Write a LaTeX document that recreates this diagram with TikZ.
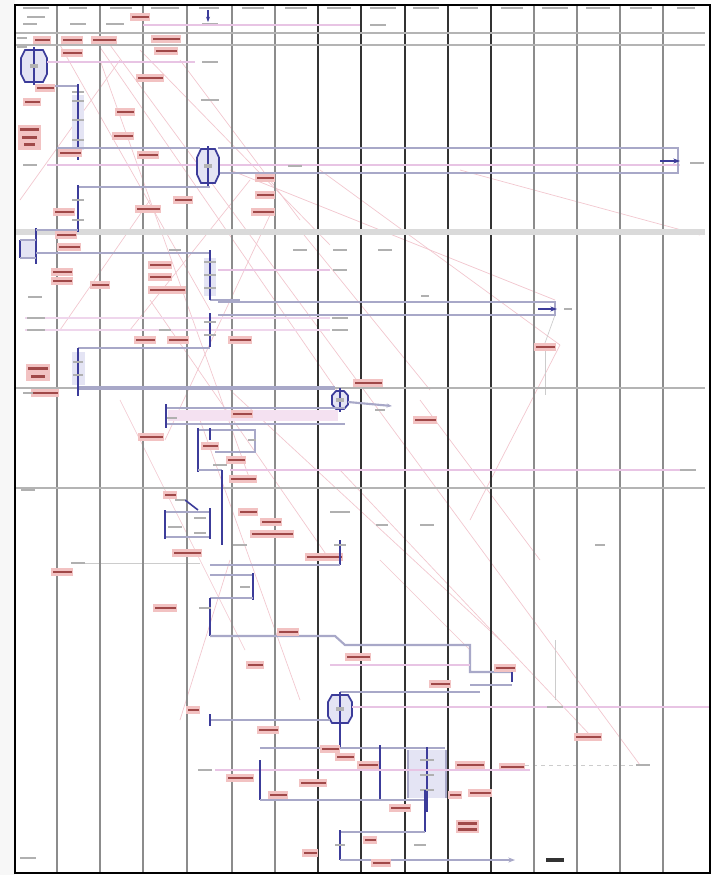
\documentclass[tikz,border=0pt]{standalone}
\usetikzlibrary{arrows.meta}
\definecolor{lanegray}{HTML}{8C8C8C}
\definecolor{lanedark}{HTML}{333333}
\definecolor{bandgray}{HTML}{B4B4B4}
\definecolor{bandlight}{HTML}{DADADA}
\definecolor{bluestem}{HTML}{3C3C9A}
\definecolor{blueline}{HTML}{A8A8C8}
\definecolor{bluefill}{HTML}{E4E4F4}
\definecolor{pinkbar}{HTML}{E8C4E4}
\definecolor{redfill}{HTML}{F2C2C2}
\definecolor{redtext}{HTML}{A04848}
\definecolor{diag}{HTML}{F2C6CE}
\definecolor{txtgray}{HTML}{B0B0B0}
\tikzset{
  lanel/.style={draw=lanegray,line width=1.5pt},
  laned/.style={draw=lanedark,line width=1.5pt},
  band/.style={draw=bandgray,line width=2.2pt},
  bstem/.style={draw=bluestem,line width=1.2pt},
  bline/.style={draw=blueline,line width=1.6pt},
  pbar/.style={draw=pinkbar,line width=2.2pt},
  thinline/.style={draw=diag,line width=0.5pt},
  thingray/.style={draw=gray!40,line width=0.5pt},
  hexa/.style={draw=bluestem,line width=1.3pt,fill=bluefill},
}
\newcommand{\redlab}[3]{\fill[redfill] ({#1-#3/2},{#2-4}) rectangle ({#1+#3/2},{#2+4});
  \fill[redtext] ({#1-#3/2+1.5},{#2-1.4}) rectangle ({#1+#3/2-1.5},{#2+1.4});}
\newcommand{\graylab}[3]{\fill[txtgray] ({#1-#3/2},{#2-1.3}) rectangle ({#1+#3/2},{#2+1.3});}
\newcommand{\hexag}[4]{\draw[hexa] ({#1-#3/2+4},{#2-#4/2}) -- ({#1+#3/2-4},{#2-#4/2}) -- ({#1+#3/2},{#2-#4/4}) -- ({#1+#3/2},{#2+#4/4}) -- ({#1+#3/2-4},{#2+#4/2}) -- ({#1-#3/2+4},{#2+#4/2}) -- ({#1-#3/2},{#2+#4/4}) -- ({#1-#3/2},{#2-#4/4}) -- cycle;
  \draw[bstem] (#1,{#2-#4/2-3}) -- (#1,{#2+#4/2+3});
  \fill[gray!60] ({#1-4},{#2-2}) rectangle ({#1+4},{#2+2});}
\begin{document}
\begin{tikzpicture}[x=0.75pt,y=-0.75pt]
\useasboundingbox (0,0) rectangle (718,875);
\fill[white] (0,0) rectangle (718,875);
\fill[gray!6] (0,0) rectangle (15,875);
% ---------- faint diagonal connectors ----------
\foreach \a/\b/\c/\d in {95/40/340/395, 110/45/640/765, 320/170/560/345, 230/170/555/300,
  140/50/330/245, 60/45/210/310, 250/180/130/330, 270/215/165/440, 460/170/700/235,
  230/390/500/640, 340/470/590/735, 100/60/250/480, 180/60/300/220, 300/230/430/390,
  150/300/330/560, 420/400/540/560, 20/200/120/60, 150/200/60/330, 200/420/300/700,
  380/560/470/650, 230/560/180/720, 560/345/470/520, 120/400/245/650}
  {\draw[thinline] (\a,\b) -- (\c,\d);}
\draw[thingray] (555,315) -- (545,343);
\draw[thingray] (545,351) -- (545,395);
\draw[thingray] (555,700) -- (555,640);
\draw[thingray,dashed] (525,765) -- (635,765);
\draw[thingray] (75,563) -- (200,563);
% ---------- lanes ----------
\foreach \x in {57,100,143,187,232,275,534,577,620,663} {\draw[lanel] (\x,5) -- (\x,873);}
\foreach \x in {318,361,405,448,491} {\draw[laned] (\x,5) -- (\x,873);}
% header labels
\foreach \x/\w in {36/26,78/18,121/22,165/28,209/20,253/22,296/22,339/24,383/26,426/26,469/18,512/22,555/26,598/24,641/22,686/18}
  {\graylab{\x}{8}{\w}}
% ---------- bands ----------
\draw[band] (15,33) -- (705,33);
\draw[band] (15,45) -- (705,45);
\draw[draw=bandlight,line width=4pt] (15,232) -- (705,232);
\draw[band] (15,388) -- (705,388);
\draw[band] (15,488) -- (705,488);
\draw[draw=blueline,line width=3pt] (78,388) -- (335,388);
% ---------- top region ----------
\graylab{36}{17}{18}\graylab{30}{24}{14}\graylab{78}{24}{16}\graylab{115}{24}{18}\graylab{210}{24}{16}
\draw[bstem,-{Stealth[length=4pt]}] (208,10) -- (208,22);
\redlab{140}{17}{20}
\draw[pbar] (143,25) -- (360,25);
\graylab{378}{25}{16}
\graylab{22}{38}{10}\graylab{22}{47}{10}
\redlab{42}{40}{18}\redlab{72}{40}{22}\redlab{104}{40}{26}\redlab{166}{39}{30}
\redlab{166}{51}{24}\redlab{72}{53}{22}
% hexagon 1 and stem
\hexag{34}{66}{26}{32}
\draw[pbar] (47,62) -- (195,62);
\graylab{210}{62}{16}
\redlab{150}{78}{28}
\draw[bline] (47,86) -- (78,86);
\redlab{45}{88}{20}
\draw[bstem] (78,84) -- (78,160);
\foreach \y in {92,101,110,120,130,140} {\graylab{78}{\y}{12}}
\fill[bluefill] (72,95) rectangle (84,150);
\draw[bstem] (78,84) -- (78,160);
\foreach \y in {101,120,140} {\graylab{78}{\y}{12}}
\redlab{32}{102}{18}\redlab{125}{112}{20}\redlab{123}{136}{22}
\fill[redfill] (18,125) rectangle (41,150);
\fill[redtext] (20,128) rectangle (39,130.5);\fill[redtext] (22,136) rectangle (37,138.5);\fill[redtext] (24,143) rectangle (35,145.5);
\redlab{70}{153}{24}
\graylab{210}{100}{18}
% long box with hexagon 2
\draw[bline] (57,148) -- (200,148);
\graylab{30}{165}{14}\graylab{165}{165}{10}
\draw[pbar] (47,165) -- (680,165);
\draw[bline] (218,148) -- (678,148) -- (678,173) -- (218,173);
\draw[bstem,-{Stealth[length=5pt]}] (660,161) -- (680,161);
\graylab{697}{163}{14}
\graylab{295}{166}{14}
\hexag{208}{166}{22}{34}
\redlab{148}{155}{22}\redlab{265}{178}{20}\redlab{265}{195}{20}\redlab{263}{212}{24}
\redlab{183}{200}{20}\redlab{148}{209}{26}\redlab{64}{212}{22}\redlab{66}{235}{22}\redlab{69}{247}{24}
\draw[bline] (78,187) -- (210,187);
\draw[bstem] (78,185) -- (78,232);
\graylab{78}{200}{12}\graylab{78}{220}{12}
% bracket 3
\fill[bluefill] (20,240) rectangle (35,258);
\draw[bstem] (20,240) -- (20,258);
\draw[bstem] (36,228) -- (36,264);
\draw[bline] (36,230) -- (78,230);
\draw[bline] (36,253) -- (210,253);
\draw[bline] (20,240) -- (36,240);\draw[bline] (20,258) -- (36,258);
\draw[bstem] (210,250) -- (210,300);
\draw[bline] (210,300) -- (240,300);
\fill[bluefill] (204,258) rectangle (216,296);
\draw[bstem] (210,250) -- (210,300);
\foreach \y in {262,275,288} {\graylab{210}{\y}{12}}
\redlab{62}{272}{22}\redlab{62}{281}{22}\redlab{100}{285}{20}
\redlab{160}{265}{24}\redlab{160}{277}{24}\redlab{167}{290}{38}
\graylab{35}{297}{14}\graylab{175}{250}{12}\graylab{300}{250}{14}\graylab{340}{250}{14}\graylab{385}{250}{14}
\draw[pbar] (218,270) -- (330,270);
\graylab{340}{270}{14}
% long box to 555
\draw[bline] (218,302) -- (555,302) -- (555,315) -- (218,315);
\draw[bstem,-{Stealth[length=5pt]}] (538,309) -- (557,309);
\graylab{425}{296}{8}\graylab{568}{309}{8}
\draw[pbar,draw=pinkbar!70] (25,318) -- (330,318);
\draw[pbar,draw=pinkbar!70] (25,330) -- (330,330);
\graylab{36}{318}{18}\graylab{36}{330}{18}\graylab{340}{318}{16}\graylab{340}{330}{16}\graylab{165}{330}{12}
\draw[bstem] (210,313) -- (210,347);
\graylab{210}{322}{12}\graylab{210}{335}{12}
\draw[bline] (78,348) -- (210,348);
\redlab{145}{340}{22}\redlab{178}{340}{22}\redlab{240}{340}{24}
\redlab{545}{347}{22}
\fill[bluefill] (72,352) rectangle (85,385);
\draw[bstem] (78,348) -- (78,396);
\graylab{78}{362}{10}\graylab{78}{375}{10}
\fill[redfill] (26,364) rectangle (50,381);
\fill[redtext] (28,367) rectangle (48,369.5);\fill[redtext] (31,375) rectangle (45,377.5);
\redlab{45}{393}{28}
\graylab{28}{393}{10}
% ---------- middle region ----------
\redlab{368}{383}{30}
\hexag{340}{400}{16}{18}
\draw[bline,-{Stealth[length=4pt]}] (348,402) -- (392,406);
\graylab{380}{410}{10}
\fill[pinkbar!50] (168,410) rectangle (338,421);
\draw[bline] (165,408) -- (345,408);\draw[bline] (165,424) -- (345,424);
\draw[bstem] (166,404) -- (166,428);
\graylab{172}{418}{10}
\redlab{242}{414}{22}
\redlab{151}{437}{26}\redlab{425}{420}{24}
\draw[bline] (198,430) -- (255,430) -- (255,452) -- (215,452);
\draw[bstem] (198,428) -- (198,472);
\draw[bstem] (210,428) -- (210,440);
\graylab{252}{440}{8}\graylab{220}{465}{14}
\redlab{210}{446}{18}\redlab{236}{460}{20}\redlab{243}{479}{28}
\draw[bline] (198,470) -- (222,470);
\draw[pbar] (230,470) -- (680,470);
\graylab{688}{470}{16}
\graylab{28}{490}{14}
\draw[bstem] (222,470) -- (222,545);
\redlab{170}{495}{14}
\draw[bline] (165,512) -- (210,512);\draw[bline] (165,537) -- (210,537);
\draw[bstem] (165,510) -- (165,539);\draw[bstem] (210,508) -- (210,539);
\draw[bstem] (185,500) -- (198,510);
\graylab{180}{500}{10}\graylab{200}{518}{12}\graylab{200}{533}{12}\graylab{175}{527}{14}\graylab{240}{545}{14}
\redlab{248}{512}{20}\redlab{271}{522}{22}\redlab{272}{534}{44}
\redlab{187}{553}{30}\redlab{324}{557}{38}
\graylab{340}{512}{20}\graylab{382}{525}{12}\graylab{427}{525}{14}\graylab{600}{545}{10}
\draw[bstem] (340,540) -- (340,565);
\graylab{340}{545}{12}
\draw[bline] (210,565) -- (340,565);
\draw[bline] (210,575) -- (253,575);
\draw[bstem] (253,573) -- (253,600);
\graylab{245}{587}{10}
\draw[bline] (210,598) -- (253,598);
\draw[bstem] (210,598) -- (210,636);
\graylab{78}{563}{14}
\redlab{62}{572}{22}
\redlab{165}{608}{24}\graylab{205}{608}{12}
% ---------- lower region ----------
\draw[bline] (210,636) -- (335,636) -- (345,645) -- (470,645) -- (470,672) -- (512,672);
\draw[bstem] (512,664) -- (512,682);
\draw[bline] (470,685) -- (512,685);
\draw[bline] (340,692) -- (480,692);
\redlab{288}{632}{22}
\draw[pbar] (330,665) -- (470,665);
\redlab{255}{665}{18}\redlab{358}{657}{26}\redlab{505}{668}{22}\redlab{440}{684}{22}
\hexag{340}{709}{24}{28}
\draw[pbar] (352,707) -- (710,707);
\graylab{555}{707}{16}
\redlab{193}{710}{14}
\draw[bline] (210,720) -- (330,720);
\draw[bstem] (210,714) -- (210,726);
\draw[bstem] (340,725) -- (340,748);
\draw[bline] (260,748) -- (445,748);
\redlab{268}{730}{22}\redlab{588}{737}{28}
\fill[bluefill] (408,750) rectangle (446,798);
\draw[bstem] (380,745) -- (380,800);\draw[bstem] (427,747) -- (427,812);
\draw[bline] (408,750) -- (408,798);\draw[bline] (446,750) -- (446,798);
\graylab{427}{760}{14}\graylab{427}{775}{14}\graylab{427}{790}{14}
\redlab{330}{749}{20}\redlab{345}{757}{20}\redlab{368}{765}{22}\redlab{470}{765}{30}\redlab{512}{767}{26}
\graylab{643}{765}{14}
\draw[pbar] (215,770) -- (530,770);
\graylab{205}{770}{14}
\redlab{240}{778}{28}\redlab{313}{783}{28}
\draw[bstem] (260,760) -- (260,800);
\draw[bline] (260,800) -- (425,800);
\draw[bstem] (425,790) -- (425,832);
\draw[bline] (340,832) -- (425,832);
\draw[bstem] (340,830) -- (340,860);
\draw[bline,-{Stealth[length=5pt]}] (340,860) -- (515,860);
\redlab{278}{795}{20}\redlab{400}{808}{22}\redlab{455}{795}{14}\redlab{480}{793}{24}
\fill[redfill] (456,820) rectangle (479,833);
\fill[redtext] (458,822) rectangle (477,824.5);\fill[redtext] (458,828) rectangle (477,830.5);
\redlab{370}{840}{14}\redlab{310}{853}{16}\redlab{381}{863}{20}
\graylab{340}{845}{10}\graylab{420}{845}{12}
\fill[lanedark] (546,858) rectangle (564,862);
\graylab{28}{858}{16}
% ---------- frame ----------
\draw[black,line width=1.6pt] (15,5) rectangle (710,873);
\end{tikzpicture}
\end{document}
